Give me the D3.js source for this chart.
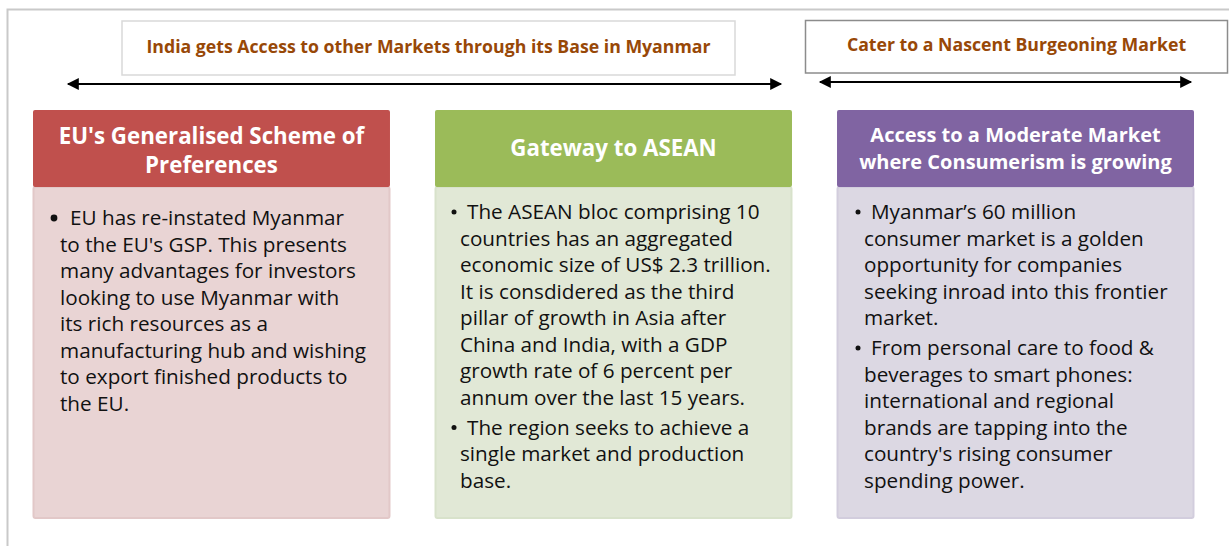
<!DOCTYPE html>
<html>
<head>
<meta charset="utf-8">
<script src="https://cdn.jsdelivr.net/npm/d3@7"></script>
<style>
  html, body { margin: 0; padding: 0; background: #fff; }
  svg { display: block; font-family: "Open Sans", Lato, sans-serif; }
</style>
</head>
<body>
<svg width="1229" height="546"></svg>
<script>
// banner captions above the arrows
const banners = [
  "India gets Access to other Markets through its Base in Myanmar",
  "Cater to a Nascent Burgeoning Market"
];

// panel names, header lines and bullet texts (already wrapped as in the picture)
const panels = ["eu", "asean", "consumer"];
const headers = [
  ["EU's Generalised Scheme of", "Preferences"],
  ["Gateway to ASEAN"],
  ["Access to a Moderate Market", "where Consumerism is growing"]
];
const bullets = [
  [
    ["EU has re-instated Myanmar", "to the EU's GSP. This presents", "many advantages for investors",
     "looking to use Myanmar with", "its rich resources as a", "manufacturing hub and wishing",
     "to export finished products to", "the EU."]
  ],
  [
    ["The ASEAN bloc comprising 10", "countries has an aggregated", "economic size of US$ 2.3 trillion.",
     "It is consdidered as the third", "pillar of growth in Asia after", "China and India, with a GDP",
     "growth rate of 6 percent per", "annum over the last 15 years."],
    ["The region seeks to achieve a", "single market and production", "base."]
  ],
  [
    ["Myanmar\u2019s 60 million", "consumer market is a golden", "opportunity for companies",
     "seeking inroad into this frontier", "market."],
    ["From personal care to food &", "beverages to smart phones:", "international and regional",
     "brands are tapping into the", "country's rising consumer", "spending power."]
  ]
];
const headColors = ["#c0504d", "#9bbb59", "#8064a2"];
const bodyColors = ["#e9d4d4", "#e1e8d6", "#dcd8e3"];
const bodyEdges = ["#e2c8c8", "#d8e2cb", "#d2cddd"];

const svg = d3.select("svg");

// outer frame (clipped at right and bottom)
svg.append("path")
  .attr("d", "M7.5,546 V9.5 H1229")
  .attr("fill", "none")
  .attr("stroke", "#c9c9c9")
  .attr("stroke-width", 2);

// arrow heads
const defs = svg.append("defs");
defs.append("marker")
  .attr("id", "head")
  .attr("viewBox", "0 0 10 10")
  .attr("refX", 9).attr("refY", 5)
  .attr("markerWidth", 7).attr("markerHeight", 6)
  .attr("markerUnits", "strokeWidth")
  .attr("orient", "auto-start-reverse")
  .append("path")
  .attr("d", "M0,0 L10,5 L0,10 Z")
  .attr("fill", "#000");

// banner boxes + arrows
const bannerBoxes = [
  { x0: 122, x1: 735, y0: 21, y1: 75, stroke: "#d9d9d9", ay: 84, ax0: 66, ax1: 783 },
  { x0: 805.5, x1: 1227.5, y0: 20.5, y1: 73, stroke: "#8c8c8c", ay: 82, ax0: 818, ax1: 1193 }
];
const bg = svg.append("g").selectAll("g").data(banners).join("g");
bg.append("rect")
  .attr("x", (d, i) => bannerBoxes[i].x0)
  .attr("y", (d, i) => bannerBoxes[i].y0)
  .attr("width", (d, i) => bannerBoxes[i].x1 - bannerBoxes[i].x0)
  .attr("height", (d, i) => bannerBoxes[i].y1 - bannerBoxes[i].y0)
  .attr("fill", "#fff")
  .attr("stroke", (d, i) => bannerBoxes[i].stroke)
  .attr("stroke-width", 1.5);
bg.append("text")
  .attr("x", (d, i) => (bannerBoxes[i].x0 + bannerBoxes[i].x1) / 2)
  .attr("y", (d, i) => (bannerBoxes[i].y0 + bannerBoxes[i].y1) / 2 + 4.5)
  .attr("text-anchor", "middle")
  .attr("font-size", 17.7)
  .attr("font-weight", "bold")
  .attr("fill", "#984807")
  .text(d => d);
bg.append("line")
  .attr("x1", (d, i) => bannerBoxes[i].ax0 + 2)
  .attr("x2", (d, i) => bannerBoxes[i].ax1 - 2)
  .attr("y1", (d, i) => bannerBoxes[i].ay)
  .attr("y2", (d, i) => bannerBoxes[i].ay)
  .attr("stroke", "#000")
  .attr("stroke-width", 2)
  .attr("marker-start", "url(#head)")
  .attr("marker-end", "url(#head)");

// panels
const x = d3.scaleBand().domain(panels).range([33, 1194]).paddingInner(0.112);
const headTop = 110, headBottom = 187, bodyBottom = 518;
const lineH = 26.5, paraGap = 3.5;
const bodyTop = [225, 219, 219];

const pg = svg.append("g").selectAll("g").data(panels).join("g")
  .attr("transform", d => `translate(${x(d)},0)`);

pg.append("rect")
  .attr("x", 0.5).attr("y", headBottom)
  .attr("width", x.bandwidth() - 1).attr("height", bodyBottom - headBottom)
  .attr("rx", 2)
  .attr("fill", (d, i) => bodyColors[i])
  .attr("stroke", (d, i) => bodyEdges[i])
  .attr("stroke-width", 2);

pg.append("rect")
  .attr("x", 0).attr("y", headTop)
  .attr("width", x.bandwidth()).attr("height", headBottom - headTop)
  .attr("rx", 2)
  .attr("fill", (d, i) => headColors[i]);

pg.each(function(d, i) {
  const g = d3.select(this);
  const hl = headers[i];
  const mid = (headTop + headBottom) / 2 + (i === 0 ? 2 : 0);
  const hSize = i === 2 ? 20 : 22.3;
  const hStep = i === 2 ? 27 : 29;
  g.selectAll("text.h").data(hl).join("text")
    .attr("class", "h")
    .attr("x", x.bandwidth() / 2)
    .attr("y", (t, k) => mid + (k - (hl.length - 1) / 2) * hStep + hSize * 0.34)
    .attr("text-anchor", "middle")
    .attr("font-size", hSize)
    .attr("font-weight", "bold")
    .attr("fill", "#fff")
    .text(t => t);

  let y = bodyTop[i];
  const textX = i === 1 ? 25 : 27;
  bullets[i].forEach(par => {
    g.append("circle")
      .attr("cx", textX - 6)
      .attr("cy", y - 7)
      .attr("r", i === 0 ? 3.4 : 2.5)
      .attr("fill", "#111");
    par.forEach((line, k) => {
      g.append("text")
        .attr("x", k === 0 ? textX + (i === 0 ? 10 : 7) : textX)
        .attr("y", y)
        .attr("font-size", 20.7)
        .attr("fill", "#111")
        .text(line);
      y += lineH;
    });
    y += paraGap;
  });
});
</script>
</body>
</html>
